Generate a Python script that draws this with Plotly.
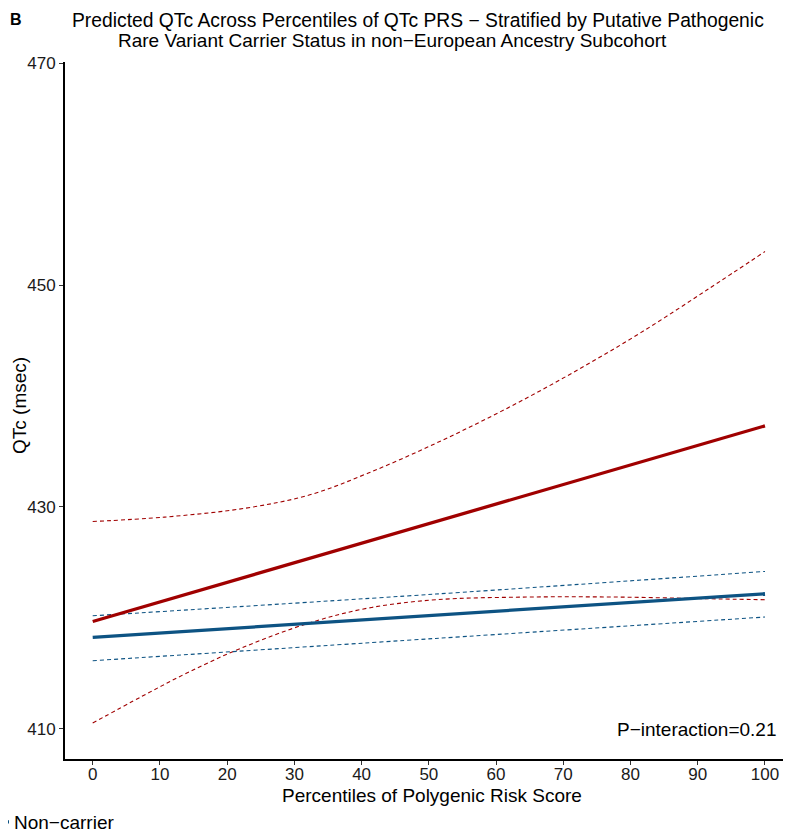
import plotly.graph_objects as go

# ---- data ----
carrier_x = [0, 100]
carrier_fit = [419.67, 437.31]
carrier_up_x = [0, 10.7, 22.8, 32.3, 41.0, 51.1, 61.2, 71.3, 81.4, 91.4, 100]
carrier_up = [428.68, 429.08, 429.89, 431.09, 433.05, 435.75, 438.75, 442.06, 445.66, 449.57, 453.02]
carrier_lo_x = [0, 7.3, 14.0, 22.1, 32.2, 41.0, 51.1, 64.5, 77.9, 91.3, 100]
carrier_lo = [410.51, 412.91, 415.02, 417.27, 419.53, 420.88, 421.63, 421.87, 421.87, 421.72, 421.63]

non_x = [0, 100]
non_fit = [418.23, 422.17]
non_ci_x = [0, 51, 100]
non_up = [420.18, 422.14, 424.18]
non_lo = [416.13, 418.14, 420.07]

x_ticks = list(range(0, 101, 10))
y_ticks = [410, 430, 450, 470]

RED = "#A00000"
BLUE = "#0D5383"
FONT = "Liberation Sans, Arial, sans-serif"

fig = go.Figure()
fig.add_trace(go.Scatter(x=carrier_up_x, y=carrier_up, mode="lines", line=dict(color=RED, width=1.1, dash="4px,3px", shape="spline"), showlegend=False))
fig.add_trace(go.Scatter(x=carrier_lo_x, y=carrier_lo, mode="lines", line=dict(color=RED, width=1.1, dash="4px,3px", shape="spline"), showlegend=False))
fig.add_trace(go.Scatter(x=non_ci_x, y=non_up, mode="lines", line=dict(color=BLUE, width=1.1, dash="4px,3px", shape="spline"), showlegend=False))
fig.add_trace(go.Scatter(x=non_ci_x, y=non_lo, mode="lines", line=dict(color=BLUE, width=1.1, dash="4px,3px", shape="spline"), showlegend=False))
fig.add_trace(go.Scatter(x=carrier_x, y=carrier_fit, mode="lines", name="Carrier", line=dict(color=RED, width=3.3), showlegend=False))
fig.add_trace(go.Scatter(x=non_x, y=non_fit, mode="lines", name="Non\u2212carrier", line=dict(color=BLUE, width=3.3), showlegend=True))

# page has an 8px body margin: figure origin sits at screen (8, 8)
OFF = 8
W, H = 791 - OFF, 836 - OFF
PL = 65 - OFF
PT = 62 - OFF
PB = 836 - 759
pw = W - PL
ph = H - PT - PB

def px_to_paper_x(px):
    return (px - OFF - PL) / pw

def py_to_paper_y(py):
    return (H - PB - (py - OFF)) / ph

fig.update_layout(
    width=W, height=H,
    margin=dict(l=PL, r=0, t=PT, b=PB, autoexpand=False),
    paper_bgcolor="white", plot_bgcolor="white",
    font=dict(family=FONT, size=19, color="#1a1a1a"),
    xaxis=dict(range=[-4.12, 103.87], tickvals=x_ticks, ticks="outside", ticklen=4, tickcolor="#333333",
               showline=True, linecolor="black", linewidth=2, showgrid=False, zeroline=False,
               tickfont=dict(size=17, color="#1a1a1a"), ticklabelstandoff=-5),
    yaxis=dict(range=[407.27, 470.11], tickvals=y_ticks, ticks="outside", ticklen=4, tickcolor="#333333",
               showline=True, linecolor="black", linewidth=2, showgrid=False, zeroline=False,
               tickfont=dict(size=17, color="#1a1a1a")),
    legend=dict(orientation="h", x=px_to_paper_x(-26), xanchor="left", y=py_to_paper_y(822), yanchor="middle",
                font=dict(size=19, color="black"), bgcolor="rgba(0,0,0,0)"),
    showlegend=True,
)

fig.add_annotation(text="Percentiles of Polygenic Risk Score", xref="paper", yref="paper",
                   x=px_to_paper_x(432), y=py_to_paper_y(795),
                   xanchor="center", yanchor="middle", showarrow=False, font=dict(size=19, color="black"))
fig.add_annotation(text="QTc (msec)", textangle=-90, xref="paper", yref="paper", x=px_to_paper_x(19), y=py_to_paper_y(406),
                   xanchor="center", yanchor="middle", showarrow=False, font=dict(size=19, color="black"))
fig.add_annotation(text="<b>B</b>", xref="paper", yref="paper", x=px_to_paper_x(8), y=py_to_paper_y(20),
                   xanchor="left", yanchor="middle", showarrow=False, font=dict(size=16, color="black"))
fig.add_annotation(text="Predicted QTc Across Percentiles of QTc PRS \u2212 Stratified by Putative Pathogenic",
                   xref="paper", yref="paper", x=px_to_paper_x(70), y=py_to_paper_y(21),
                   xanchor="left", yanchor="middle", showarrow=False, font=dict(size=19.3, color="black"))
fig.add_annotation(text="Rare Variant Carrier Status in non\u2212European Ancestry Subcohort",
                   xref="paper", yref="paper", x=px_to_paper_x(116), y=py_to_paper_y(40),
                   xanchor="left", yanchor="middle", showarrow=False, font=dict(size=19, color="black"))
fig.add_annotation(text="P\u2212interaction=0.21", xref="paper", yref="paper", x=px_to_paper_x(779), y=py_to_paper_y(729),
                   xanchor="right", yanchor="middle", showarrow=False, font=dict(size=19, color="black"))

fig.write_html("out.html")
